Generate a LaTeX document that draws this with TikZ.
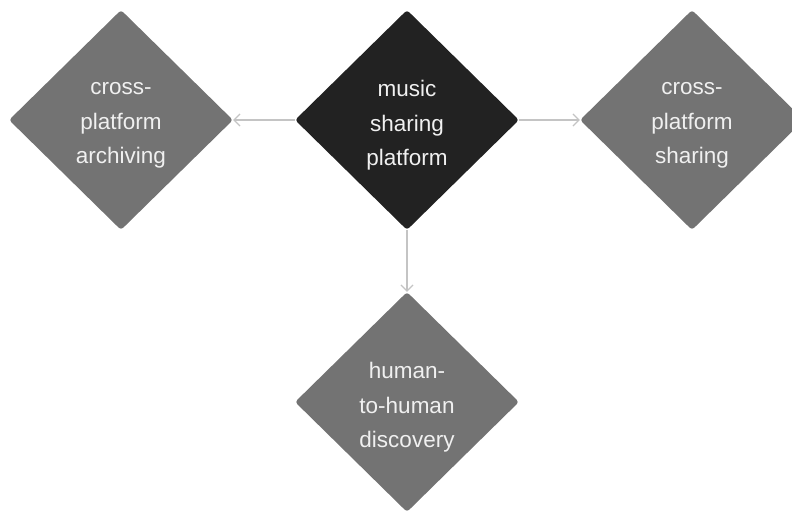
\documentclass[tikz,border=0pt]{standalone}
\usepackage{fontspec}
\setmainfont{Liberation Sans}
\usetikzlibrary{shapes.geometric,arrows.meta}
\definecolor{darkfill}{HTML}{222222}
\definecolor{greyfill}{HTML}{737373}
\definecolor{txt}{HTML}{F0F0F0}
\definecolor{conn}{HTML}{C4C4C4}
\tikzset{
  dia/.style={diamond, aspect=1, draw=none, fill=greyfill, rounded corners=3pt,
    minimum width=224pt, minimum height=220pt, inner sep=0pt},
  maindia/.style={dia, fill=darkfill},
  lbl/.style={text=txt, align=center, font=\fontsize{22.5}{34.5}\selectfont, yshift=-5.5pt, inner sep=0pt},
  link/.style={draw=conn, line width=1.2pt, -{Straight Barb[length=6pt,width=12pt]}}
}
\begin{document}
\begin{tikzpicture}[x=1pt,y=-1pt]
\useasboundingbox (0,0) rectangle (792,511);
\node[maindia, label={[lbl]center:{music\\sharing\\platform}}] (main) at (407,120) {};
\node[dia, label={[lbl]center:{cross-\\platform\\archiving}}] (arch) at (121,120) {};
\node[dia, label={[lbl]center:{cross-\\platform\\sharing}}] (share) at (692,120) {};
\node[dia, label={[lbl]center:{human-\\to-human\\discovery}}] (human) at (407,402) {};
\draw[link] (main.west) -- (arch.east);
\draw[link] (main.east) -- (share.west);
\draw[link] (main.south) -- (human.north);
\end{tikzpicture}
\end{document}
